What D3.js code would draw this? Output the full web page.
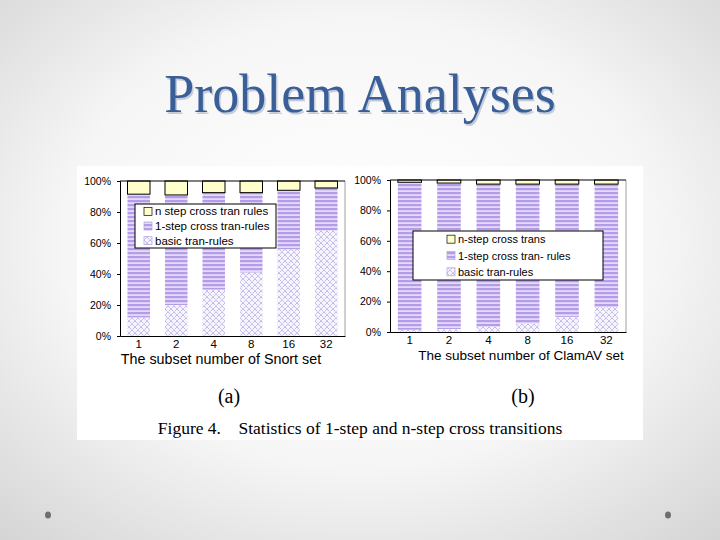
<!DOCTYPE html>
<html><head><meta charset="utf-8">
<script src="https://cdn.jsdelivr.net/npm/d3@7"></script>
<style>body{margin:0;padding:0;overflow:hidden}svg{display:block}</style>
</head><body>
<script>
const categoriesA = ["1","2","4","8","16","32"];
const basicA = [12, 20, 30, 41, 56, 68];
const oneStepA = [79.5, 71, 62.5, 51.5, 38, 27.5];
const nStepA = [8.5, 9, 7.5, 7.5, 6, 4.5];
const categoriesB = ["1","2","4","8","16","32"];
const basicB = [1.5, 2, 3.5, 5.5, 10, 16.5];
const oneStepB = [97, 96, 93.8, 91.8, 87.3, 80.8];
const nStepB = [1.5, 2, 2.7, 2.7, 2.7, 2.7];
const yTicks = [0,20,40,60,80,100];
const seriesNames = ["basic","oneStep","nStep"];
const legendA = ["n step cross tran rules","1-step cross tran-rules","basic tran-rules"];
const legendB = ["n-step cross trans","1-step cross tran- rules","basic tran-rules"];

const W=720,H=540;
const svg=d3.select("body").append("svg").attr("width",W).attr("height",H);
const defs=svg.append("defs");
const rg=defs.append("radialGradient").attr("id","bg").attr("cx","50%").attr("cy","45%").attr("r","75%");
rg.append("stop").attr("offset","0%").attr("stop-color","#ffffff");
rg.append("stop").attr("offset","55%").attr("stop-color","#f6f6f6");
rg.append("stop").attr("offset","100%").attr("stop-color","#d4d4d4");
svg.append("rect").attr("width",W).attr("height",H).attr("fill","url(#bg)");

// patterns
const pStripe=defs.append("pattern").attr("id","stripe").attr("patternUnits","userSpaceOnUse").attr("width",4).attr("height",4);
pStripe.append("rect").attr("width",4).attr("height",4).attr("fill","#e4dafa");
pStripe.append("rect").attr("y",0).attr("width",4).attr("height",2.2).attr("fill","#b59ce8");
const pHatch=defs.append("pattern").attr("id","hatch").attr("patternUnits","userSpaceOnUse").attr("width",6).attr("height",6);
pHatch.append("rect").attr("width",6).attr("height",6).attr("fill","#f6f4fd");
pHatch.append("path").attr("d","M0,0L6,6M6,0L0,6").attr("stroke","#a49ad8").attr("stroke-width",0.9).attr("stroke-dasharray","1,1");
pHatch.append("rect").attr("x",2.5).attr("y",2.5).attr("width",1).attr("height",1).attr("fill","#8f86d0");

const serif="'Liberation Serif','Times New Roman',serif";
const sans="'Liberation Sans',Arial,sans-serif";
// title
svg.append("text").attr("x",360).attr("y",112).attr("text-anchor","middle")
  .attr("font-family",serif).attr("font-size",54)
  .attr("fill","#c4ccd8").attr("dx",1.5).attr("dy",1.5).text("Problem Analyses");
svg.append("text").attr("x",360).attr("y",112).attr("text-anchor","middle")
  .attr("font-family",serif).attr("font-size",54)
  .attr("fill","#3a5e97").text("Problem Analyses");

// white figure area
svg.append("rect").attr("x",77).attr("y",166).attr("width",566).attr("height",274).attr("fill","#ffffff");

const fills={basic:"url(#hatch)",oneStep:"url(#stripe)",nStep:"#ffffcc"};

function chart(cfg){
  const g=svg.append("g");
  const x=d3.scaleBand().domain(cfg.cats).range([cfg.x0,cfg.x1]).paddingInner(0.4).paddingOuter(0.2);
  const y=d3.scaleLinear().domain([0,100]).range([cfg.y0,cfg.y1]);
  const rows=cfg.cats.map((c,i)=>({cat:c,basic:cfg.basic[i],oneStep:cfg.oneStep[i],nStep:cfg.nStep[i]}));
  const stack=d3.stack().keys(seriesNames)(rows);
  stack.forEach(s=>{
    g.selectAll(null).data(s).enter().append("rect")
      .attr("x",d=>x(d.data.cat)).attr("width",x.bandwidth())
      .attr("y",d=>y(Math.min(d[1],100))).attr("height",d=>y(d[0])-y(Math.min(d[1],100)))
      .attr("fill",fills[s.key])
      .attr("stroke",s.key==="nStep"?"#000":"none").attr("stroke-width",1);
  });
  // axes
  const ya=d3.axisLeft(y).tickValues(yTicks).tickFormat(d=>d+"%").tickSize(3).tickPadding(6);
  const yg=g.append("g").attr("transform",`translate(${cfg.x0},0)`).call(ya);
  yg.select(".domain").attr("stroke","#000");
  yg.selectAll("text").attr("font-family",sans).attr("font-size",10.5).attr("fill","#000");
  const xa=d3.axisBottom(x).tickSize(0).tickPadding(4);
  const xg=g.append("g").attr("transform",`translate(0,${cfg.y0})`).call(xa);
  xg.select(".domain").attr("stroke","#000");
  xg.selectAll("text").attr("font-family",sans).attr("font-size",11.5).attr("fill","#000");
  // frame right/top
  g.append("line").attr("x1",cfg.x1).attr("x2",cfg.x1).attr("y1",cfg.y1).attr("y2",cfg.y0).attr("stroke","#888").attr("stroke-width",0.8);
  g.append("line").attr("x1",cfg.x0).attr("x2",cfg.x1).attr("y1",cfg.y1).attr("y2",cfg.y1).attr("stroke","#000").attr("stroke-width",1);
  g.append("text").attr("x",cfg.titleX).attr("y",cfg.y0+28).attr("text-anchor","middle")
    .attr("font-family",sans).attr("font-size",cfg.titleSize).text(cfg.title);
  // legend
  const lg=g.append("g");
  lg.append("rect").attr("x",cfg.lx).attr("y",cfg.ly).attr("width",cfg.lw).attr("height",cfg.lh)
    .attr("fill","#fff").attr("stroke","#000").attr("stroke-width",1);
  const keys=["nStep","oneStep","basic"];
  const step=cfg.lh/3;
  cfg.legend.forEach((t,i)=>{
    const cy=cfg.ly+step*(i+0.5);
    lg.append("rect").attr("x",cfg.lx+cfg.lpad).attr("y",cy-4).attr("width",8).attr("height",8)
      .attr("fill",fills[keys[i]]).attr("stroke",keys[i]==="nStep"?"#000":"#b0a0e0").attr("stroke-width",0.7);
    lg.append("text").attr("x",cfg.lx+cfg.lpad+11).attr("y",cy+4).attr("font-family",sans)
      .attr("font-size",cfg.lfs).text(t);
  });
}
chart({cats:categoriesA,basic:basicA,oneStep:oneStepA,nStep:nStepA,x0:120,x1:345,y0:336,y1:181,
  title:"The subset number of Snort set",titleX:221,titleSize:14.3,legend:legendA,lx:135,ly:204,lw:141,lh:44,lpad:9,lfs:11.5});
chart({cats:categoriesB,basic:basicB,oneStep:oneStepB,nStep:nStepB,x0:390,x1:626,y0:332,y1:180,
  title:"The subset number of ClamAV set",titleX:521,titleSize:13.5,legend:legendB,lx:413,ly:231,lw:190,lh:49,lpad:34,lfs:11});

svg.append("text").attr("x",229).attr("y",403).attr("text-anchor","middle")
  .attr("font-family",serif).attr("font-size",20).text("(a)");
svg.append("text").attr("x",523).attr("y",403).attr("text-anchor","middle")
  .attr("font-family",serif).attr("font-size",20).text("(b)");
svg.append("text").attr("x",360).attr("y",434).attr("text-anchor","middle")
  .attr("font-family",serif).attr("font-size",17.5)
  .style("white-space","pre").text("Figure 4.    Statistics of 1-step and n-step cross transitions");

// bullets
[48,668].forEach(cx=>svg.append("ellipse").attr("cx",cx).attr("cy",515).attr("rx",3).attr("ry",3.5).attr("fill","#6e6e6e"));
</script>
</body></html>
